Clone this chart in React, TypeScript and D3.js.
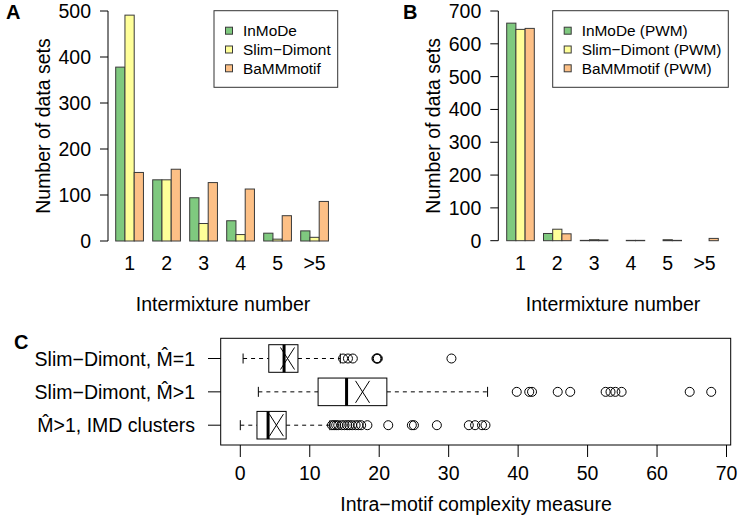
import React from 'react';
import * as d3 from 'd3';

const groups = ['1', '2', '3', '4', '5', '>5'];
const seriesA = ['InMoDe', 'Slim\u2212Dimont', 'BaMMmotif'];
const seriesB = ['InMoDe (PWM)', 'Slim\u2212Dimont (PWM)', 'BaMMmotif (PWM)'];
const inmodeA = [378, 133, 94, 44, 17, 22];
const slimA = [491, 133, 38, 14, 4, 8];
const bammA = [149, 156, 127, 113, 55, 86];
const inmodeB = [663, 22, 1, 0, 0, 0];
const slimB = [644, 35, 3, 1, 3, 0];
const bammB = [647, 21, 2, 1, 1, 7];
const ticksA = [0, 100, 200, 300, 400, 500];
const ticksB = [0, 100, 200, 300, 400, 500, 600, 700];
const colors = ['#7FC97F', '#FFFF99', '#FDC086'];

const rowLabels = ['Slim\u2212Dimont, M\u0302=1', 'Slim\u2212Dimont, M\u0302>1', 'M\u0302>1, IMD clusters'];
const whiskLo = [0.4, 2.6, 0.0];
const q1 = [4.1, 11.2, 2.4];
const med = [6.3, 15.3, 4.0];
const q3 = [8.3, 21.1, 6.6];
const whiskHi = [14.4, 35.6, 12.9];
const means = [6.8, 17.6, 5.2];
const outliers1 = [14.8, 15.5, 16.2, 19.6, 19.7, 19.8, 30.4];
const outliers2 = [39.8, 41.6, 42.0, 45.7, 47.5, 52.6, 53.3, 54.0, 54.9, 64.7, 67.8];
const outliers3 = [13.2, 13.5, 13.8, 14.1, 14.6, 15.0, 15.4, 15.7, 16.1, 16.6, 17.0, 17.4, 18.3, 21.3, 24.7, 25.0, 28.3, 32.9, 33.8, 34.8, 35.3];
const ticksC = [0, 10, 20, 30, 40, 50, 60, 70];
const xTitleC = 'Intra\u2212motif complexity measure';

const FONT = '"Liberation Sans", Arial, Helvetica, sans-serif';
const FS = 19.5;

type BarProps = {
  axisX: number; firstX: number; step: number; y0: number; yTop: number; max: number;
  ticks: number[]; values: number[][]; series: string[];
  legend: { x: number; y: number; w: number; h: number };
  label: string; labelX: number; titleX: number;
};

function BarPanel(p: BarProps) {
  const x = d3.scaleBand<string>().domain(groups)
    .range([p.firstX, p.firstX + p.step * (groups.length - 0.25)])
    .paddingInner(0.25).paddingOuter(0);
  const xi = d3.scaleBand<number>().domain([0, 1, 2]).range([0, x.bandwidth()]);
  const y = d3.scaleLinear().domain([0, p.max]).range([p.y0, p.yTop]);
  const rowH = 18.8;
  return (
    <g>
      <text x={p.labelX} y={19} fontFamily={FONT} fontWeight="bold" fontSize={20}>{p.label}</text>
      {p.values.map((vals, s) => vals.map((v, gi) => v > 0 ? (
        <rect key={`${s}-${gi}`} x={(x(groups[gi]) as number) + (xi(s) as number)} y={y(v)}
          width={xi.bandwidth()} height={p.y0 - y(v)} fill={colors[s]} stroke="#3a3a3a" strokeWidth={1} />
      ) : null))}
      <line x1={p.axisX} x2={p.axisX} y1={y(0)} y2={y(p.max)} stroke="#000" />
      {p.ticks.map(t => (
        <g key={t}>
          <line x1={p.axisX - 8} x2={p.axisX} y1={y(t)} y2={y(t)} stroke="#000" />
          <text x={p.axisX - 17} y={y(t)} dy="0.36em" textAnchor="end" fontFamily={FONT} fontSize={FS}>{t}</text>
        </g>
      ))}
      {groups.map(g => (
        <text key={g} x={(x(g) as number) + x.bandwidth() / 2} y={270} textAnchor="middle" fontFamily={FONT} fontSize={FS}>{g}</text>
      ))}
      <text x={p.titleX} y={311} textAnchor="middle" fontFamily={FONT} fontSize={FS}>Intermixture number</text>
      <text transform={`translate(${p.axisX - 58},${(y(0) + y(p.max)) / 2}) rotate(-90)`} textAnchor="middle"
        fontFamily={FONT} fontSize={FS}>Number of data sets</text>
      <rect x={p.legend.x} y={p.legend.y} width={p.legend.w} height={p.legend.h} fill="#fff" stroke="#333" />
      {p.series.map((s, i) => (
        <g key={s}>
          <rect x={p.legend.x + 11.5} y={p.legend.y + 20 + i * rowH - 3.5} width={7} height={7} fill={colors[i]} stroke="#3a3a3a" />
          <text x={p.legend.x + 29} y={p.legend.y + 20 + i * rowH} dy="0.36em" fontFamily={FONT} fontSize={15.4}>{s}</text>
        </g>
      ))}
    </g>
  );
}

function BoxPanel() {
  const left = 220.7, right = 730.7, top = 338.3, bottom = 445;
  const x = d3.scaleLinear().domain([0, 70]).range([240.3, 726.5]);
  const y = d3.scalePoint<number>().domain([0, 1, 2]).range([358.5, 425.2]);
  const half = 13.8;
  const outl = [outliers1, outliers2, outliers3];
  return (
    <g>
      <text x={14} y={349} fontFamily={FONT} fontWeight="bold" fontSize={20}>C</text>
      <rect x={left} y={top} width={right - left} height={bottom - top} fill="none" stroke="#000" />
      {rowLabels.map((lab, i) => {
        const cy = y(i) as number;
        return (
          <g key={i}>
            <line x1={208} x2={left} y1={cy} y2={cy} stroke="#000" />
            <text x={195} y={cy} dy="0.36em" textAnchor="end" fontFamily={FONT} fontSize={FS}>{lab}</text>
            <line x1={x(whiskLo[i])} x2={x(q1[i])} y1={cy} y2={cy} stroke="#000" strokeDasharray="4,4" />
            <line x1={x(q3[i])} x2={x(whiskHi[i])} y1={cy} y2={cy} stroke="#000" strokeDasharray="4,4" />
            <line x1={x(whiskLo[i])} x2={x(whiskLo[i])} y1={cy - 5} y2={cy + 5} stroke="#000" />
            <line x1={x(whiskHi[i])} x2={x(whiskHi[i])} y1={cy - 5} y2={cy + 5} stroke="#000" />
            <rect x={x(q1[i])} y={cy - half} width={x(q3[i]) - x(q1[i])} height={2 * half} fill="#fff" stroke="#000" />
            <line x1={x(med[i])} x2={x(med[i])} y1={cy - half} y2={cy + half} stroke="#000" strokeWidth={3} />
            <line x1={x(means[i]) - 7} x2={x(means[i]) + 7} y1={cy - 11} y2={cy + 11} stroke="#000" />
            <line x1={x(means[i]) - 7} x2={x(means[i]) + 7} y1={cy + 11} y2={cy - 11} stroke="#000" />
            {outl[i].map((v, j) => (
              <circle key={j} cx={x(v)} cy={cy} r={4.5} fill="none" stroke="#000" />
            ))}
          </g>
        );
      })}
      {ticksC.map(t => (
        <g key={t}>
          <line x1={x(t)} x2={x(t)} y1={bottom} y2={bottom + 12} stroke="#000" />
          <text x={x(t)} y={480} textAnchor="middle" fontFamily={FONT} fontSize={FS}>{t}</text>
        </g>
      ))}
      <text x={476} y={511} textAnchor="middle" fontFamily={FONT} fontSize={FS}>{xTitleC}</text>
    </g>
  );
}

export default function App() {
  return (
    <svg width={739} height={518} style={{ position: 'absolute', left: 0, top: 0, background: '#fff' }}>
      <rect width={739} height={518} fill="#fff" />
      <BarPanel axisX={108} firstX={115.7} step={37} y0={241} yTop={11} max={500} ticks={ticksA}
        values={[inmodeA, slimA, bammA]} series={seriesA}
        legend={{ x: 214, y: 10.7, w: 123.7, h: 76.6 }} label="A" labelX={6} titleX={223} />
      <BarPanel axisX={498.3} firstX={506.7} step={36.8} y0={240.7} yTop={11} max={700} ticks={ticksB}
        values={[inmodeB, slimB, bammB]} series={seriesB}
        legend={{ x: 552.7, y: 10.7, w: 175.6, h: 76.6 }} label="B" labelX={403} titleX={613} />
      <BoxPanel />
    </svg>
  );
}
